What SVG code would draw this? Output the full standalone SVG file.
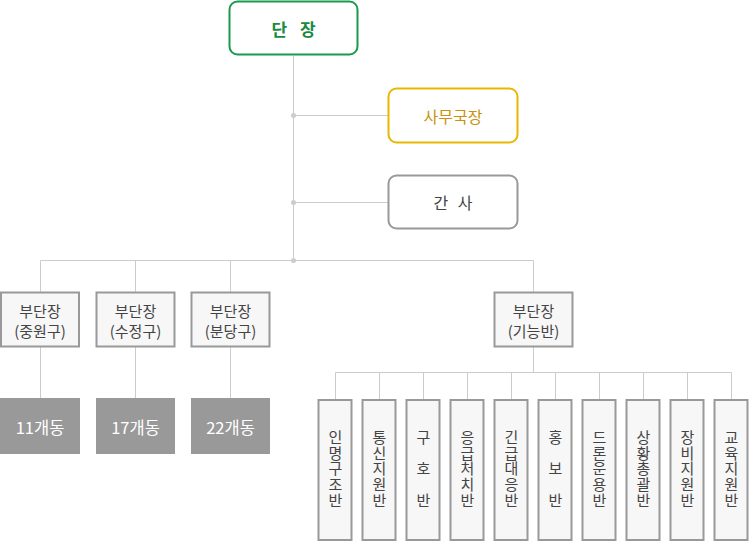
<svg xmlns="http://www.w3.org/2000/svg" width="749" height="542" viewBox="0 0 749 542">
<style>
text{font-family:"Noto Sans CJK KR","Noto Sans",sans-serif;text-anchor:middle;dominant-baseline:central}
.ln{stroke:#cccccc;stroke-width:1;fill:none}
.dot{fill:#cccccc}
.sub rect{fill:#f7f7f7;stroke:#999999;stroke-width:2}
.sub text{font-size:15px;fill:#444444}
.cnt rect{fill:#999999}
.cnt text{font-size:16.5px;fill:#ffffff}
.v rect{fill:#f7f7f7;stroke:#999999;stroke-width:2}
.v text{font-size:15px;fill:#444444;writing-mode:vertical-rl;letter-spacing:0.6px}
.v text.w{letter-spacing:16.5px}
</style>
<rect width="749" height="542" fill="#ffffff"/>
<g id="connectors">
<path class="ln" d="M293.5 56V260.5M293.5 115.5H388M293.5 202.5H388M40.5 260.5H533.5M40.5 260.5V292M135.5 260.5V292M230.5 260.5V292M533.5 260.5V292M40.5 347V398M135.5 347V398M230.5 347V398M533.5 347V372.5M335.5 372.5H731.5M335.5 372.5V399M379.5 372.5V399M423.5 372.5V399M467.5 372.5V399M511.5 372.5V399M555.5 372.5V399M599.5 372.5V399M643.5 372.5V399M687.5 372.5V399M731.5 372.5V399"/>
<circle class="dot" cx="293.5" cy="115.5" r="2.5"/>
<circle class="dot" cx="293.5" cy="202.5" r="2.5"/>
<circle class="dot" cx="293.5" cy="260.5" r="2.5"/>
</g>
<g id="head"><rect x="229.5" y="1.5" width="128" height="53" rx="8" fill="#ffffff" stroke="#1a9a4a" stroke-width="2"/><text x="293.5" y="28" font-size="17" fill="#1a8a3f" font-weight="bold" word-spacing="9">단 장</text></g>
<g id="office"><rect x="388.5" y="88.5" width="129" height="54" rx="8" fill="#ffffff" stroke="#e8b800" stroke-width="2"/><text x="453" y="115.5" font-size="16" fill="#c8920a">사무국장</text></g>
<g id="secretary"><rect x="388.5" y="175.5" width="129" height="53" rx="8" fill="#ffffff" stroke="#999999" stroke-width="2"/><text x="453" y="202" font-size="16" fill="#444444" word-spacing="6">간 사</text></g>
<g id="sub1" class="sub"><rect x="1" y="292.5" width="78" height="54"/><text x="40" y="310">부단장</text><text x="40" y="330">(중원구)</text></g>
<g id="sub2" class="sub"><rect x="96.5" y="292.5" width="78" height="54"/><text x="135.5" y="310">부단장</text><text x="135.5" y="330">(수정구)</text></g>
<g id="sub3" class="sub"><rect x="191.5" y="292.5" width="78" height="54"/><text x="230.5" y="310">부단장</text><text x="230.5" y="330">(분당구)</text></g>
<g id="sub4" class="sub"><rect x="494.5" y="292.5" width="78" height="54"/><text x="533.5" y="310">부단장</text><text x="533.5" y="330">(기능반)</text></g>
<g id="cnt1" class="cnt"><rect x="0" y="398" width="80" height="56"/><text x="40" y="427">11개동</text></g>
<g id="cnt2" class="cnt"><rect x="96" y="398" width="79" height="56"/><text x="135.5" y="427">17개동</text></g>
<g id="cnt3" class="cnt"><rect x="191" y="398" width="79" height="56"/><text x="230.5" y="427">22개동</text></g>
<g id="t1" class="v"><rect x="318.5" y="400" width="33" height="140"/><text x="335.5" y="469">인명구조반</text></g>
<g id="t2" class="v"><rect x="362.5" y="400" width="33" height="140"/><text x="379.5" y="469">통신지원반</text></g>
<g id="t3" class="v"><rect x="406.5" y="400" width="33" height="140"/><text class="w" x="423.5" y="477">구호반</text></g>
<g id="t4" class="v"><rect x="450.5" y="400" width="33" height="140"/><text x="467.5" y="469">응급처치반</text></g>
<g id="t5" class="v"><rect x="494.5" y="400" width="33" height="140"/><text x="511.5" y="469">긴급대응반</text></g>
<g id="t6" class="v"><rect x="538.5" y="400" width="33" height="140"/><text class="w" x="555.5" y="477">홍보반</text></g>
<g id="t7" class="v"><rect x="582.5" y="400" width="33" height="140"/><text x="599.5" y="469">드론운용반</text></g>
<g id="t8" class="v"><rect x="626.5" y="400" width="33" height="140"/><text x="643.5" y="469">상황총괄반</text></g>
<g id="t9" class="v"><rect x="670.5" y="400" width="33" height="140"/><text x="687.5" y="469">장비지원반</text></g>
<g id="t10" class="v"><rect x="714.5" y="400" width="33" height="140"/><text x="731.5" y="469">교육지원반</text></g>
</svg>
